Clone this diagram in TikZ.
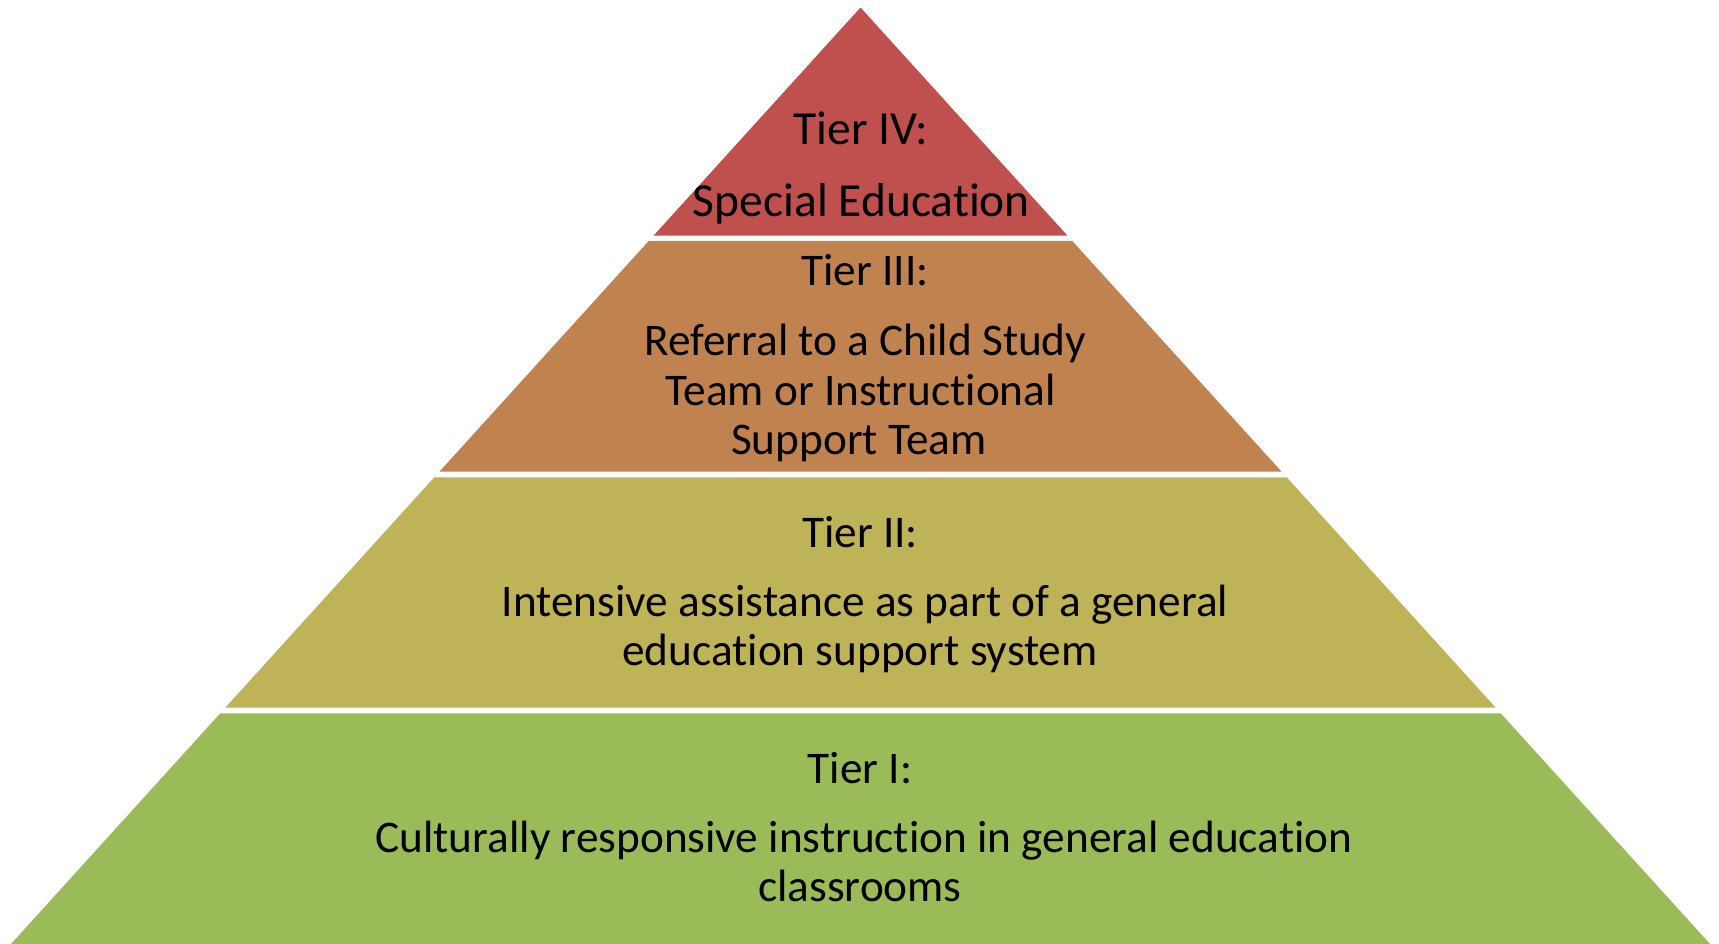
\documentclass[tikz,border=0pt]{standalone}
\usepackage{fontspec}
\setmainfont{Carlito}[Ligatures=NoCommon]
\definecolor{tierfour}{HTML}{C0504D}
\definecolor{tierthree}{HTML}{C08350}
\definecolor{tiertwo}{HTML}{BEB356}
\definecolor{tierone}{HTML}{9BBB59}
\tikzset{
  band/.style={draw=none},
  tierline/.style={anchor=base, inner sep=0pt, text=black,
    font=\fontsize{45.3}{50}\selectfont},
  toptier/.style={tierline, font=\fontsize{47.5}{52}\selectfont}
}
\begin{document}
\begin{tikzpicture}[x=1pt, y=-1pt]
  \useasboundingbox (0,0) rectangle (1719,944);
  % four bands cut from one triangle, white gaps between them
  \fill[band, tierfour]  (860.5,7.5) -- (1067.5,235.7) -- (653.5,235.7) -- cycle;
  \fill[band, tierthree] (648.7,241) -- (1072.3,241) -- (1281.6,471.7) -- (439.4,471.7) -- cycle;
  \fill[band, tiertwo]   (434.3,477.3) -- (1286.7,477.3) -- (1495.7,707.7) -- (225.3,707.7) -- cycle;
  \fill[band, tierone]   (220.3,713.3) -- (1500.7,713.3) -- (1710,944) -- (11,944) -- cycle;

  % Tier IV
  \node[toptier] (t4h) at (861,144.5) {Tier IV:};
  \node[toptier] (t4a) at (861.5,216.5) {Special Education};
  % Tier III
  \node[tierline] (t3h) at (865,285.5) {Tier III:};
  \node[tierline] (t3a) at (865.5,355.5) {Referral to a Child Study};
  \node[tierline] (t3b) at (860.7,405) {Team or Instructional};
  \node[tierline] (t3c) at (859,454.5) {Support Team};
  % Tier II
  \node[tierline] (t2h) at (860,547) {Tier II:};
  \node[tierline] (t2a) at (865,616) {Intensive assistance as part of a general};
  \node[tierline] (t2b) at (860,665) {education support system};
  % Tier I
  \node[tierline] (t1h) at (860,783) {Tier I:};
  \node[tierline] (t1a) at (864,852.5) {Culturally responsive instruction in general education};
  \node[tierline] (t1b) at (860,901) {classrooms};
\end{tikzpicture}
\end{document}
